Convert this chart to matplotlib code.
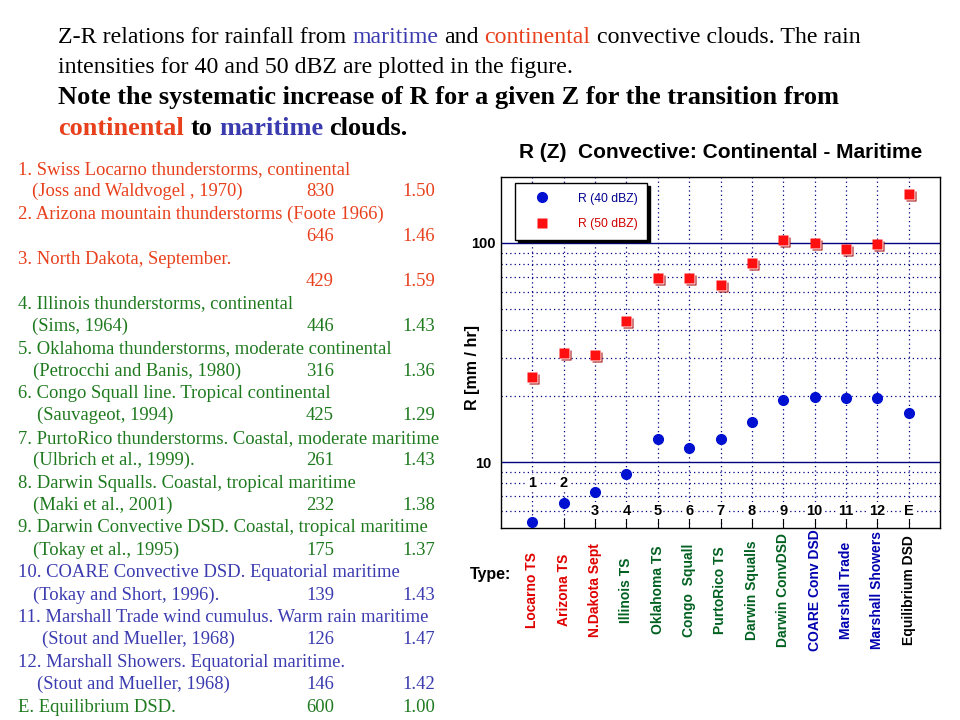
import numpy as np
import matplotlib.pyplot as plt
from matplotlib.transforms import offset_copy

# Z-R cases, 1..12 and E
labels = ['1', '2', '3', '4', '5', '6', '7', '8', '9', '10', '11', '12', 'E']
types = ['Locarno TS', 'Arizona TS', 'N.Dakota Sept', 'Illinois TS', 'Oklahoma TS',
         'Congo  Squall', 'PurtoRico TS', 'Darwin Squalls', 'Darwin ConvDSD',
         'COARE Conv DSD', 'Marshall Trade', 'Marshall Showers', 'Equilibrium DSD']
type_colors = ['#e00000'] * 3 + ['#006020'] * 6 + ['#0000b0'] * 3 + ['black']

# rain rates [mm/hr]
r40 = [5.3, 6.5, 7.3, 8.8, 12.7, 11.6, 12.8, 15.3, 19.2, 19.9, 19.6, 19.6, 16.7]
r50 = [24.4, 31.6, 30.8, 44.0, 68.9, 68.9, 64.1, 81.1, 103, 99.5, 93.9, 99.3, 167]

# left hand table: (text, a, b, colour, indent px)
table_lines = [
    ('1. Swiss Locarno thunderstorms, continental', '', '', 'red', 18),
    ('(Joss and Waldvogel , 1970)', '830', '1.50', 'red', 32),
    ('2. Arizona mountain thunderstorms (Foote 1966)', '', '', 'red', 18),
    ('', '646', '1.46', 'red', 32),
    ('3. North Dakota, September.', '', '', 'red', 18),
    ('', '429', '1.59', 'red', 32),
    ('4. Illinois thunderstorms, continental', '', '', 'green', 18),
    ('(Sims, 1964)', '446', '1.43', 'green', 32),
    ('5. Oklahoma thunderstorms, moderate continental', '', '', 'green', 18),
    ('(Petrocchi and Banis, 1980)', '316', '1.36', 'green', 33),
    ('6. Congo Squall line. Tropical continental', '', '', 'green', 18),
    ('(Sauvageot, 1994)', '425', '1.29', 'green', 37),
    ('7. PurtoRico thunderstorms. Coastal, moderate maritime', '', '', 'green', 18),
    ('(Ulbrich et al., 1999).', '261', '1.43', 'green', 33),
    ('8. Darwin Squalls. Coastal, tropical maritime', '', '', 'green', 18),
    ('(Maki et al., 2001)', '232', '1.38', 'green', 33),
    ('9. Darwin Convective DSD. Coastal, tropical maritime', '', '', 'green', 18),
    ('(Tokay et al., 1995)', '175', '1.37', 'green', 33),
    ('10. COARE Convective DSD. Equatorial maritime', '', '', 'blue', 18),
    ('(Tokay and Short, 1996).', '139', '1.43', 'blue', 33),
    ('11. Marshall Trade wind cumulus. Warm rain maritime', '', '', 'blue', 18),
    ('(Stout and Mueller, 1968)', '126', '1.47', 'blue', 42),
    ('12. Marshall Showers. Equatorial maritime.', '', '', 'blue', 18),
    ('(Stout and Mueller, 1968)', '146', '1.42', 'blue', 37),
    ('E. Equilibrium DSD.', '600', '1.00', 'green', 18),
]
txt_col = {'red': '#e8401c', 'green': '#1f7a1f', 'blue': '#3b3bb0'}

W, H = 960, 720
fig = plt.figure(figsize=(9.6, 7.2), dpi=100)
renderer = fig.canvas.get_renderer()


def px(x, y):
    return x / W, 1 - y / H


def text_width(s, **kw):
    t = fig.text(0, 0, s, **kw)
    w = t.get_window_extent(renderer).width
    t.remove()
    return w


def draw_runs(x, y, runs, **kw):
    # draw coloured pieces of one line, left to right
    space = text_width('x x', **kw) - text_width('xx', **kw)
    for s, c in runs:
        fig.text(*px(x, y), s, color=c, va='baseline', ha='left', **kw)
        x += text_width(s, **kw) + space


serif = dict(family='Liberation Serif', fontsize=17.2)
draw_runs(58, 43, [('Z-R relations for rainfall from', 'black'), ('maritime', '#3b3bb0'),
                   ('and', 'black'), ('continental', '#e8401c'),
                   ('convective clouds. The rain', 'black')], **serif)
draw_runs(58, 73, [('intensities for 40 and 50 dBZ are plotted in the figure.', 'black')], **serif)
bold = dict(family='Liberation Serif', fontsize=19, fontweight='bold')
draw_runs(58, 104, [('Note the systematic increase of R for a given Z for the transition from', 'black')], **bold)
draw_runs(58, 135, [('continental', '#e8401c'), ('to', 'black'), ('maritime', '#3b3bb0'),
                    ('clouds.', 'black')], **bold)

# table on the left
for i, (s, a, b, c, ind) in enumerate(table_lines):
    y = 174 + i * 22.4
    col = txt_col[c]
    if s:
        fig.text(*px(ind, y), s, color=col, family='Liberation Serif', fontsize=13.4, va='baseline')
    if a:
        fig.text(*px(334, y), a, color=col, family='Liberation Serif', fontsize=13.4,
                 va='baseline', ha='right')
        fig.text(*px(435, y), b, color=col, family='Liberation Serif', fontsize=13.4,
                 va='baseline', ha='right')

# chart
ax = fig.add_axes([501 / W, 1 - 528 / H, 439 / W, 351 / H])
x = np.arange(1, len(labels) + 1)
ax.set_yscale('log')
ax.set_xlim(0, 14)
ax.set_ylim(5, 200)

grid = dict(color='#000080', lw=0.9, ls=(0, (1, 2.5)), zorder=0)
for v in x:
    ax.axvline(v, **grid)
for v in [6, 7, 8, 9, 20, 30, 40, 50, 60, 70, 80, 90]:
    ax.axhline(v, **grid)
for v in [10, 100]:
    ax.axhline(v, color='#000080', lw=1.0, zorder=0)

ax.set_yticks([10, 100])
ax.set_yticklabels(['10', '100'], fontsize=10.5, fontweight='bold', family='Liberation Sans')
ax.yaxis.set_minor_locator(plt.NullLocator())
ax.tick_params(axis='y', length=0, pad=13)
for t in ax.get_yticklabels():
    t.set_ha('center')
ax.set_xticks(x)
ax.set_xticklabels([])
ax.tick_params(axis='x', direction='in', length=7, width=0.8)
for sp in ax.spines.values():
    sp.set_linewidth(1.0)

# case numbers inside the plot
for v, lab in zip(x, labels):
    yv = 8 if v <= 2 else 6
    ax.text(v, yv, lab, ha='center', va='center', fontsize=10.5, fontweight='bold',
            family='Liberation Sans',
            bbox=dict(facecolor='white', edgecolor='none', pad=1.0))

# markers: red squares with a little 3D edge
sh2 = offset_copy(ax.transData, fig=fig, x=2, y=-2, units='dots')
sh1 = offset_copy(ax.transData, fig=fig, x=1, y=-1, units='dots')
ax.plot(x, r50, 's', color='#a00000', ms=7.5, mec='none', transform=sh2, zorder=3)
ax.plot(x, r50, 's', color='white', ms=7.5, mec='none', transform=sh1, zorder=3)
ax.plot(x, r50, 's', color='#ff1010', ms=7.5, mec='none', zorder=4, label='R (50 dBZ)')
ax.plot(x, r40, 'o', color='#0010d0', ms=7, mec='#0010d0', zorder=4, label='R (40 dBZ)')

h, l = ax.get_legend_handles_labels()
leg = ax.legend(h[::-1], l[::-1], loc='upper left', bbox_to_anchor=(0.032, 0.983),
                borderaxespad=0, frameon=True, fancybox=False, edgecolor='black',
                framealpha=1, shadow={'color': 'black', 'alpha': 1},
                prop=dict(family='Liberation Sans', size=8.7),
                borderpad=0.8, handletextpad=1.5, labelspacing=1.1, handlelength=2.9)
leg.get_frame().set_linewidth(1.0)
leg.texts[0].set_color('#000090')
leg.texts[1].set_color('#d00000')
leg.set_zorder(5)

ax.set_title('R (Z)  Convective: Continental - Maritime', fontsize=15, fontweight='bold',
             family='Liberation Sans', pad=14)
fig.text(*px(473, 368), 'R [mm / hr]', rotation=90, ha='center', va='center',
         fontsize=11.5, fontweight='bold', family='Liberation Sans')

# type labels under the axis
for v, t, c in zip(x, types, type_colors):
    xp = ax.transData.transform((v, 5))[0]
    fig.text(xp / W, 1 - 590 / H, t, rotation=90, ha='center', va='center', color=c,
             fontsize=10, fontweight='bold', family='Liberation Sans')
fig.text(*px(470, 574), 'Type:', ha='left', va='center', fontsize=11.5, fontweight='bold',
         family='Liberation Sans')

fig.savefig('out.png', dpi=100)
